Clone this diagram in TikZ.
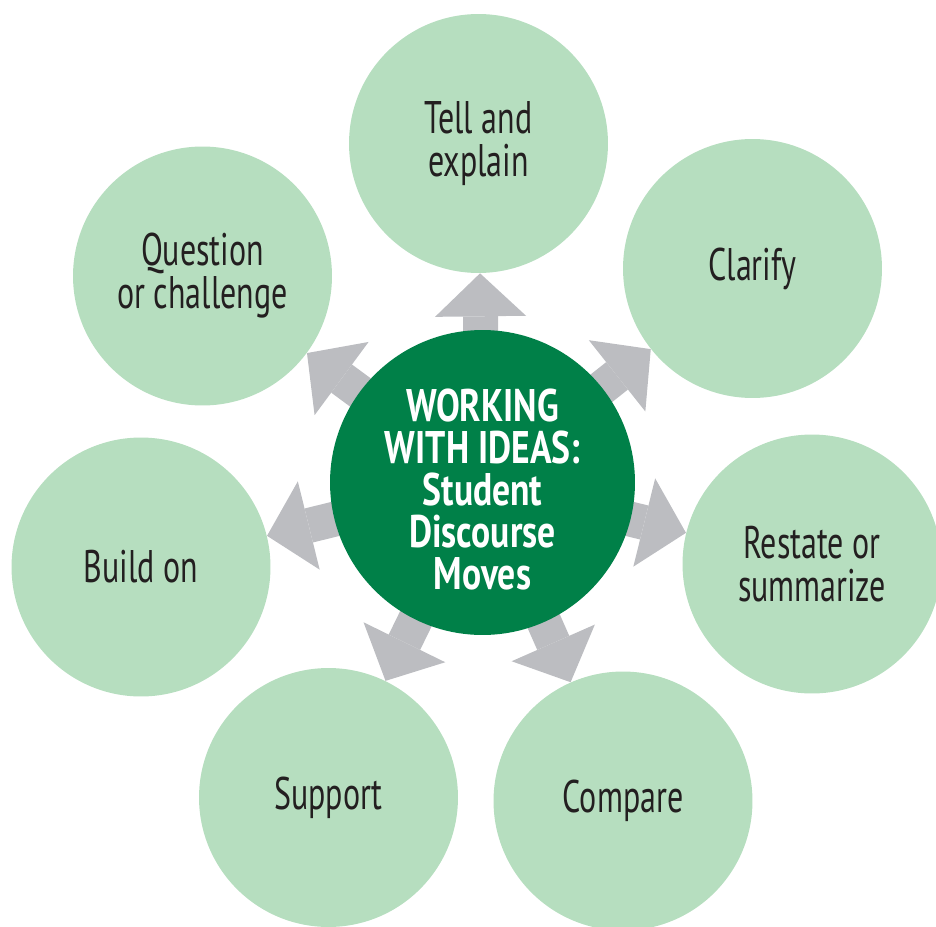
\documentclass[tikz,border=0pt]{standalone}
\usepackage{fontspec}
\setmainfont{PT Sans}[FakeStretch=0.70]
\newfontfamily\hubfont{PT Sans}[FakeStretch=0.78]
\usetikzlibrary{arrows.meta}

\definecolor{movegreen}{RGB}{182,222,191}
\definecolor{hubgreen}{RGB}{0,128,72}
\definecolor{spokegray}{RGB}{188,189,193}
\definecolor{movetext}{RGB}{35,31,32}

\begin{document}
\begin{tikzpicture}[x=0.02cm,y=-0.02cm,
	move/.style={circle,fill=movegreen,minimum size=5.18cm,inner sep=0pt,
		align=center,text=movetext,font=\fontsize{26}{24.5}\selectfont},
	hub/.style={circle,fill=hubgreen,minimum size=6.1cm,inner sep=0pt},
	hubtext/.style={align=center,text=white,inner sep=0pt,
		font=\hubfont\bfseries\fontsize{26}{24}\selectfont},
	spoke/.style={draw=spokegray,line width=0.7cm,
		-{Triangle[width=1.82cm,length=0.86cm,line width=0pt]}}]

	\useasboundingbox (0,0) rectangle (936,926);

	\node[move] (tell) at (478.5,143.5) {Tell and\\explain};
	\node[move] (clarify) at (752.5,268.5) {Clarify};
	\node[move] (restate) at (812,564) {Restate or\\summarize};
	\node[move] (compare) at (623,801) {Compare};
	\node[move] (support) at (328.5,797.5) {Support};
	\node[move] (buildon) at (141,567) {Build on};
	\node[move] (question) at (202.5,276) {Question\\or challenge};

	\coordinate (centre) at (482.5,482.5);
	\foreach \m in {tell,clarify,restate,compare,support,buildon,question}
		\draw[spoke] (centre) -- (\m);

	\node[hub] (hub) at (centre) {};
	\node[hubtext] (title) at ([yshift=-4pt]hub.center) {WORKING\\WITH IDEAS:\\Student\\Discourse\\Moves};

\end{tikzpicture}
\end{document}
